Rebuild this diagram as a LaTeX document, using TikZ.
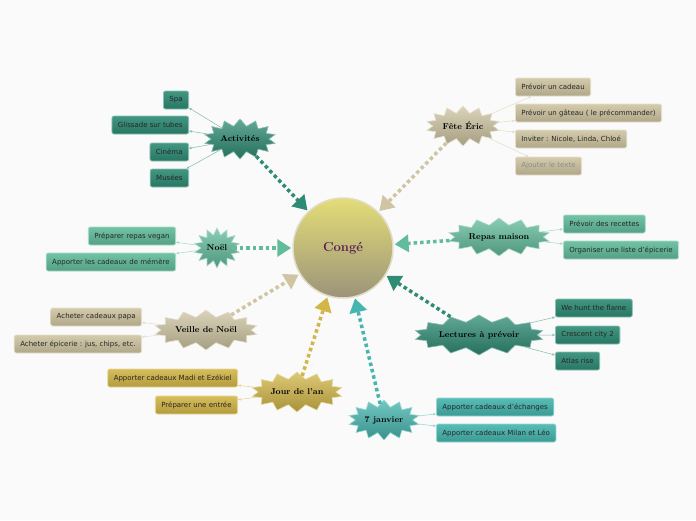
\documentclass[tikz,border=0pt]{standalone}
\usepackage{fontspec}
\setsansfont{DejaVu Sans}
\usetikzlibrary{arrows.meta,shapes.symbols}
\definecolor{deepteal}{HTML}{2E8B74}
\definecolor{mint}{HTML}{62BC9C}
\definecolor{sand}{HTML}{CFC5A2}
\definecolor{gold}{HTML}{D2B648}
\definecolor{aqua}{HTML}{45B5AE}
\definecolor{plum}{HTML}{5C1C54}
\begin{document}
\begin{tikzpicture}[x=1pt,y=-1pt,font=\sffamily\fontsize{7}{8}\selectfont,
  topic/.style={starburst,random starburst=0,starburst points=14,starburst point height=7pt,
    inner sep=1pt,draw=#1!55!white,line width=.6pt,top color=#1!75!white,bottom color=#1!80!black,
    font=\rmfamily\bfseries\fontsize{8.5}{9}\selectfont},
  leaf/.style={rounded corners=2pt,draw=#1!55!white,line width=.8pt,top color=#1!90!white,
    bottom color=#1!85!black,minimum height=18pt,inner xsep=6pt,text=black!85},
  link/.style={draw=#1,line width=3.5pt,dash pattern=on 3.5pt off 3pt,shorten >=1pt,
    -{Triangle[length=14pt,width=17pt]}},
  twig/.style={draw=#1!60!white,line width=.5pt,-{Stealth[length=3pt,width=2.5pt]}}]
  \useasboundingbox[fill=black!2] (0,0) rectangle (696,520);
  % centre
  \node[circle,minimum size=100pt,draw=sand!60!white,line width=1.5pt,top color=yellow!35!sand!90!white,
    bottom color=sand!75!black,font=\rmfamily\bfseries\fontsize{13}{15}\selectfont,text=plum] (conge) at (343,248) {Congé};
  % topics
  \node[topic=deepteal,minimum width=62pt,minimum height=40pt] (act) at (240,139) {Activités};
  \node[topic=sand,minimum width=62pt,minimum height=40pt] (fete) at (463,126) {Fête Éric};
  \node[topic=mint,minimum width=40pt,minimum height=40pt] (noel) at (217,248) {Noël};
  \node[topic=mint,minimum width=90pt,minimum height=38pt] (repas) at (499,237) {Repas maison};
  \node[topic=sand,minimum width=88pt,minimum height=40pt] (veille) at (206,330) {Veille de Noël};
  \node[topic=deepteal,minimum width=112pt,minimum height=40pt] (lect) at (479,335) {Lectures à prévoir};
  \node[topic=gold,minimum width=78pt,minimum height=40pt] (jour) at (297,392) {Jour de l'an};
  \node[topic=aqua,minimum width=62pt,minimum height=40pt] (janv) at (384,420) {7 janvier};
  % links to the centre
  \foreach \t/\c in {act/deepteal,fete/sand,noel/mint,repas/mint,veille/sand,lect/deepteal,jour/gold,janv/aqua}
    \draw[link=\c] (\t) -- (conge);
  % leaves
  \foreach \n/\y/\l in {a1/100/Spa,a2/125/Glissade sur tubes,a3/152/Cinéma,a4/178/Musées} {
    \node[leaf=deepteal,anchor=east] (\n) at (189,\y) {\l};
    \draw[twig=deepteal] (act) -- (\n);
  }
  \foreach \n/\y/\l in {f1/87/Prévoir un cadeau,f2/113/Prévoir un gâteau ( le précommander),f3/139/{Inviter : Nicole, Linda, Chloé}} {
    \node[leaf=sand,anchor=west] (\n) at (515,\y) {\l};
    \draw[twig=sand] (fete) -- (\n);
  }
  \node[leaf=sand,anchor=west,text=black!45] (f4) at (515,166) {Ajouter le texte};
  \draw[twig=sand] (fete) -- (f4);
  \foreach \n/\y/\l in {n1/236/Préparer repas vegan,n2/262/Apporter les cadeaux de mémère} {
    \node[leaf=mint,anchor=east] (\n) at (176,\y) {\l};
    \draw[twig=mint] (noel) -- (\n);
  }
  \foreach \n/\y/\l in {r1/224/Prévoir des recettes,r2/250/Organiser une liste d'épicerie} {
    \node[leaf=mint,anchor=west] (\n) at (563,\y) {\l};
    \draw[twig=mint] (repas) -- (\n);
  }
  \foreach \n/\y/\l in {v1/317/Acheter cadeaux papa,v2/344/{Acheter épicerie : jus, chips, etc.}} {
    \node[leaf=sand,anchor=east] (\n) at (142,\y) {\l};
    \draw[twig=sand] (veille) -- (\n);
  }
  \foreach \n/\y/\l in {l1/308/We hunt the flame,l2/335/Crescent city 2,l3/361/Atlas rise} {
    \node[leaf=deepteal,anchor=west] (\n) at (555,\y) {\l};
    \draw[twig=deepteal] (lect) -- (\n);
  }
  \foreach \n/\y/\l in {j1/378/Apporter cadeaux Madi et Ezékiel,j2/405/Préparer une entrée} {
    \node[leaf=gold,anchor=east] (\n) at (238,\y) {\l};
    \draw[twig=gold] (jour) -- (\n);
  }
  \foreach \n/\y/\l in {s1/407/Apporter cadeaux d'échanges,s2/433/Apporter cadeaux Milan et Léo} {
    \node[leaf=aqua,anchor=west] (\n) at (436,\y) {\l};
    \draw[twig=aqua] (janv) -- (\n);
  }
\end{tikzpicture}
\end{document}
